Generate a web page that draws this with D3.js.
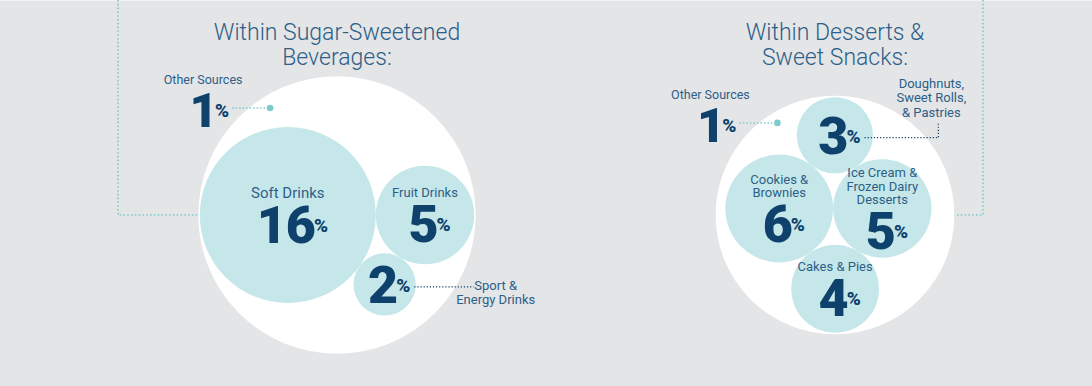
<!DOCTYPE html>
<html>
<head>
<meta charset="utf-8">
<script src="https://cdnjs.cloudflare.com/ajax/libs/d3/7.8.5/d3.min.js"></script>
<style>
	body { margin:0; background:#e4e5e7; }
	svg { display:block; font-family:Roboto, "Open Sans", sans-serif; }
</style>
</head>
<body>
<div id="viz-container"></div>
<script>
// data
var bevLabels = [["Soft Drinks"], ["Fruit Drinks"], ["Sport &", "Energy Drinks"]],
	bevValues = [16, 5, 2],
	bevOutside = [false, false, true],
	bevOther = 1;

var dessertLabels = [["Cookies &", "Brownies"], ["Ice Cream &", "Frozen Dairy", "Desserts"], ["Doughnuts,", "Sweet Rolls,", "& Pastries"], ["Cakes & Pies"]],
	dessertValues = [6, 5, 3, 4],
	dessertOutside = [false, false, true, false],
	dessertOther = 1;

var titles = [["Within Sugar-Sweetened", "Beverages:"], ["Within Desserts &", "Sweet Snacks:"]];
var otherLabel = "Other Sources";

var width = 1092,
	height = 386;

var navy = "#0e416c",
	textBlue = "#2d5f88",
	bubble = "#c6e7e9",
	teal = "#7fcacd";

var svg = d3.select('#viz-container')
		.append('svg')
			.attr('width', width)
			.attr('height', height);

svg.append('rect').attr('width', width).attr('height', height).attr('fill', '#e4e5e7');
svg.append('rect').attr('width', width).attr('height', 1).attr('fill', '#f2f3f4');

// bubble area scale, shared by both groups
var rScale = d3.scaleSqrt()
	.domain([0, 16])
	.range([0, 88]);

var charts = [
	{ cx:337, cy:215, labels:bevLabels, values:bevValues, outside:bevOutside, other:bevOther,
		title:titles[0], lineX:118, thirdBelow:true, outStyle:"right" },
	{ cx:835, cy:215, labels:dessertLabels, values:dessertValues, outside:dessertOutside, other:dessertOther,
		title:titles[1], lineX:983, thirdBelow:false, outStyle:"above" }
];

function drawChart(c) {
	var nodes = c.values.map(function(v, i) {
		return { r:rScale(v), value:v, label:c.labels[i], outside:c.outside[i] };
	});

	d3.packSiblings(nodes);
	// keep the third bubble on the side it sits in the picture
	var flip = (nodes[2].y > 0) !== c.thirdBelow ? -1 : 1;
	nodes.forEach(function(d) { d.y = d.y * flip; });
	var enc = d3.packEnclose(nodes);
	nodes.forEach(function(d) { d.x = d.x - enc.x + c.cx; d.y = d.y - enc.y + c.cy; });
	var R = enc.r + 1.5;

	var g = svg.append('g');

	// connector from the page edge
	var side = c.lineX < c.cx ? -1 : 1;
	g.append('path')
		.attr('d', 'M' + c.lineX + ',0 V' + c.cy + ' H' + (c.cx + side * R))
		.attr('fill', 'none')
		.attr('stroke', teal)
		.attr('stroke-width', 1.6)
		.attr('stroke-dasharray', '1.6 2.2');

	// title
	g.append('text')
		.attr('x', c.cx)
		.attr('text-anchor', 'middle')
		.attr('fill', textBlue)
		.style('font-size', '23px')
		.style('font-weight', 300)
		.selectAll('tspan')
		.data(c.title)
		.enter()
			.append('tspan')
			.attr('x', c.cx)
			.attr('y', function(d, i) { return 40 + i * 25; })
			.text(function(d) { return d; });

	g.append('circle')
		.attr('cx', c.cx)
		.attr('cy', c.cy)
		.attr('r', R)
		.attr('fill', '#fff');

	g.selectAll('circle.bubble')
		.data(nodes)
		.enter()
			.append('circle')
			.attr('class', 'bubble')
			.attr('cx', function(d) { return d.x; })
			.attr('cy', function(d) { return d.y; })
			.attr('r', function(d) { return d.r; })
			.attr('fill', bubble);

	var numSize = 52, capN = numSize * 0.711, lh = 13.5, gap = 8;

	nodes.forEach(function(d) {
		var lines = d.outside ? [] : d.label;
		var labelSize = d.r > 70 ? 15 : 13;
		var capL = labelSize * 0.711;
		var labelsH = lines.length ? capL + (lines.length - 1) * lh + gap : 0;
		var total = labelsH + capN;
		var top = d.y - total / 2;
		var numBase = top + total;

		lines.forEach(function(l, i) {
			g.append('text')
				.attr('x', d.x)
				.attr('y', top + capL + i * lh)
				.attr('text-anchor', 'middle')
				.attr('fill', textBlue)
				.style('font-size', labelSize + 'px')
				.text(l);
		});

		var num = g.append('text')
			.attr('x', d.x - 2)
			.attr('y', numBase)
			.attr('text-anchor', 'middle')
			.attr('fill', navy)
			.style('font-size', numSize + 'px')
			.style('font-weight', 900)
			.style('letter-spacing', '-1px')
			.text(d.value);
		var w = num.node().getComputedTextLength();
		var px = d.x - 2 + w / 2 - 1;
		var pct = g.append('text')
			.attr('x', px)
			.attr('y', numBase - 11)
			.attr('fill', navy)
			.style('font-size', '19px')
			.style('font-weight', 900)
			.text('%');
		var pEnd = px + pct.node().getComputedTextLength();

		if (d.outside) {
			var ly = numBase - 16;
			var x0 = pEnd + 4;
			if (c.outStyle === "right") {
				var x1 = c.cx + R - 2;
				g.append('path')
					.attr('d', 'M' + x0 + ',' + ly + ' H' + x1)
					.attr('fill', 'none')
					.attr('stroke', navy)
					.attr('stroke-width', 1.3)
					.attr('stroke-dasharray', '1.2 1.9');
				d.label.forEach(function(l, i) {
					g.append('text')
						.attr('x', x1 + 22)
						.attr('y', ly + 3 + i * 14)
						.attr('text-anchor', 'middle')
						.attr('fill', textBlue)
						.style('font-size', '13px')
						.text(l);
				});
			} else {
				var x2 = c.cx + R - 16;
				g.append('path')
					.attr('d', 'M' + x0 + ',' + ly + ' H' + x2 + ' V' + (ly - 14))
					.attr('fill', 'none')
					.attr('stroke', navy)
					.attr('stroke-width', 1.3)
					.attr('stroke-dasharray', '1.2 1.9');
				var n = d.label.length;
				d.label.forEach(function(l, i) {
					g.append('text')
						.attr('x', x2 - 7)
						.attr('y', ly - 21 - (n - 1 - i) * 14.5)
						.attr('text-anchor', 'middle')
						.attr('fill', textBlue)
						.style('font-size', '13px')
						.text(l);
				});
			}
		}
	});

	// "Other Sources" marker inside the white circle
	var a = -122 * Math.PI / 180;
	var dot = { x:c.cx + 0.91 * R * Math.cos(a), y:c.cy + 0.91 * R * Math.sin(a) };
	g.append('path')
		.attr('d', 'M' + (dot.x - 38) + ',' + dot.y + ' H' + (dot.x - 4))
		.attr('stroke', teal)
		.attr('stroke-width', 1.5)
		.attr('stroke-dasharray', '1.5 2');
	g.append('circle')
		.attr('cx', dot.x)
		.attr('cy', dot.y)
		.attr('r', 3.3)
		.attr('fill', teal);
	g.append('text')
		.attr('x', dot.x - 67)
		.attr('y', dot.y - 24)
		.attr('text-anchor', 'middle')
		.attr('fill', textBlue)
		.style('font-size', '12.5px')
		.text(otherLabel);
	var ot = g.append('text')
		.attr('x', dot.x - 41)
		.attr('y', dot.y + 19)
		.attr('text-anchor', 'end')
		.attr('fill', navy)
		.style('font-weight', 900);
	ot.append('tspan').style('font-size', '49px').text(c.other);
	ot.append('tspan').attr('dy', -10).attr('dx', -3).style('font-size', '19px').text('%');
}

charts.forEach(drawChart);
</script>
</body>
</html>
